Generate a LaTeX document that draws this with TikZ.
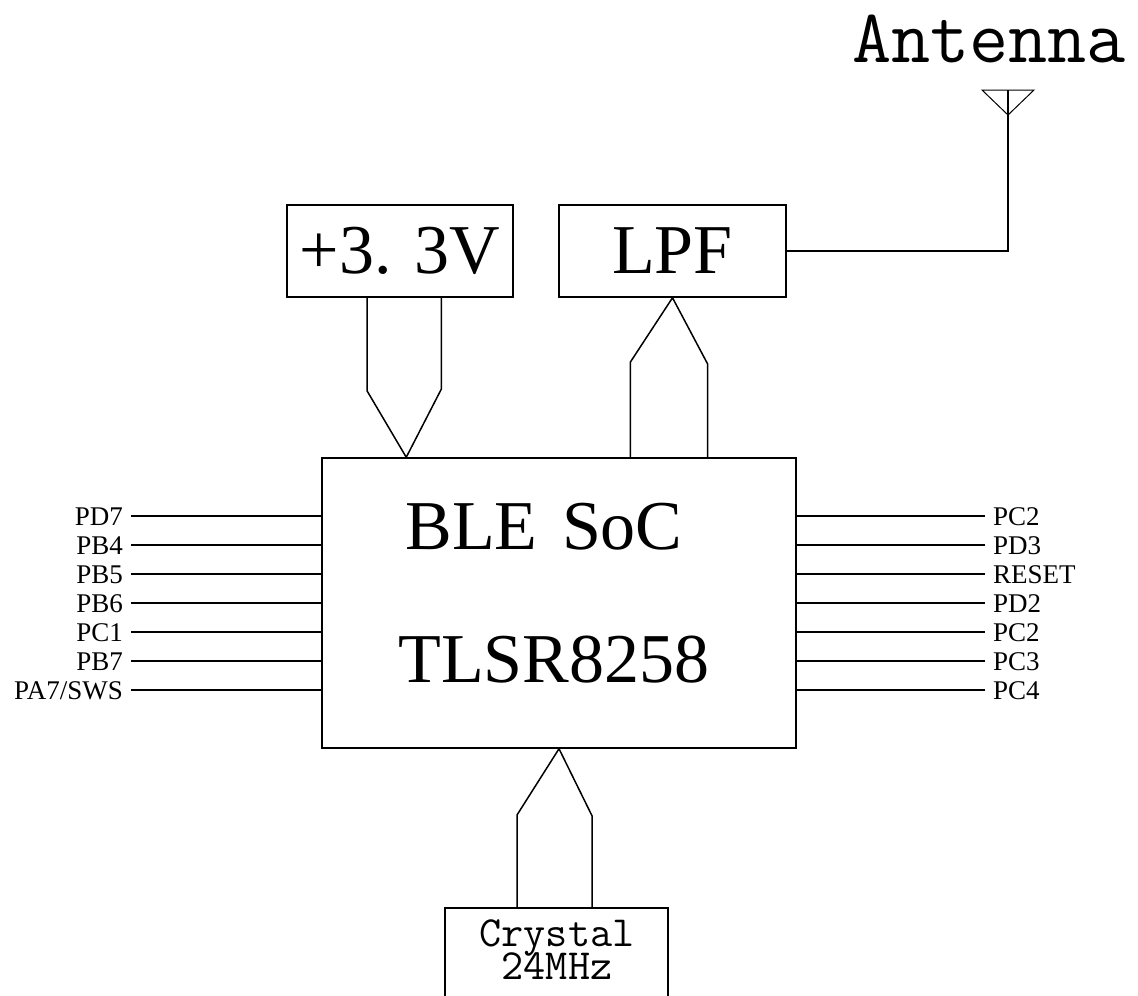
\documentclass[tikz,border=0pt]{standalone}
\usepackage{fontspec}
\setmainfont{Liberation Serif}
\tikzset{
  blocco/.style={draw, line width=1.5pt, minimum height=92pt, inner sep=0pt},
  filo/.style={line width=1.5pt},
  pin/.style={font=\fontsize{27}{27}\selectfont, inner ysep=0pt, inner xsep=8pt, text height=18pt, text depth=0pt},
  grande/.style={font=\fontsize{70}{70}\selectfont},
}
\begin{document}
\begin{tikzpicture}[x=1pt,y=-1pt]
        \useasboundingbox (0,0) rectangle (1138,996);
        %blocchi
        \node[blocco, grande, minimum width=226pt] (vcc) at (400,251) {+3. 3V};
        \node[blocco, grande, minimum width=227pt] (lpf) at (672.5,251) {LPF};
        \node[blocco, minimum width=474pt, minimum height=290pt] (soc) at (559,603) {};
        \node[blocco, minimum width=223pt, minimum height=100pt, anchor=north] (xtal) at (556.5,907) {};
        %testi
        \node[grande, anchor=base] (ble) at (544,549) {BLE\hspace{0.35em}SoC};
        \node[grande, anchor=base] (tlsr) at (554,682) {TLSR8258};
        \node[anchor=north, align=center, inner sep=0pt, font=\ttfamily\fontsize{43}{38}\selectfont] (xtext) at (557,919) {Crystal\\[-5pt]24MHz};
        \node[anchor=base, font=\ttfamily\fontsize{76}{76}\selectfont] (anttext) at (989,62) {Antenna};
        %antenna
        \coordinate (ant) at (1008,90);
        \draw[filo] (lpf.east) -| (ant);
        \draw[line width=1pt] ([xshift=-26pt]ant) -- ([xshift=26pt]ant) -- ([yshift=-25pt]ant) -- cycle;
        %alimentazione
        \coordinate (vccin) at ([xshift=85pt]soc.north west);
        \draw[filo] ([xshift=-33pt]vcc.south) -- ++(0,93) -- (vccin) -- ++(35,-68) -- ++(0,-93);
        %filtro
        \coordinate (lpfa) at ([xshift=309pt]soc.north west);
        \draw[filo] (lpfa) -- ++(0,-95) -- (lpf.south) -- ++(35,66) -- ++(0,95);
        %quarzo
        \coordinate (xa) at ([xshift=-39.5pt]xtal.north);
        \draw[filo] (xa) -- ++(0,-92) -- (soc.south) -- ++(33,67) -- ++(0,92);
        %pin sinistra
        \foreach \lab [count=\i] in {PD7,PB4,PB5,PB6,PC1,PB7,{PA7/SWS}}{
          \node[pin, anchor=east] (pl\i) at (131,487+29*\i) {\lab};
          \draw[filo] (pl\i.east) -- (pl\i.east -| soc.west);
        }
        %pin destra
        \foreach \lab [count=\i] in {PC2,PD3,RESET,PD2,PC2,PC3,PC4}{
          \node[pin, anchor=west] (pr\i) at (985,487+29*\i) {\lab};
          \draw[filo] (pr\i.west) -- (pr\i.west -| soc.east);
        }
\end{tikzpicture}
\end{document}
